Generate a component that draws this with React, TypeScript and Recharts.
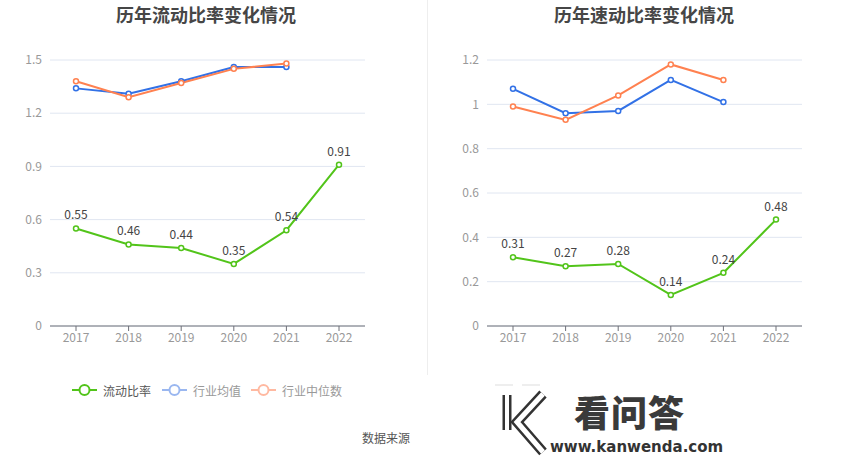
import { LineChart, Line, XAxis, YAxis, CartesianGrid, LabelList } from 'recharts';

const years = ['2017', '2018', '2019', '2020', '2021', '2022'];

const currentRatio = [0.55, 0.46, 0.44, 0.35, 0.54, 0.91];
const currentAvg = [1.34, 1.31, 1.38, 1.46, 1.46, null];
const currentMedian = [1.38, 1.29, 1.37, 1.45, 1.48, null];

const quickRatio = [0.31, 0.27, 0.28, 0.14, 0.24, 0.48];
const quickAvg = [1.07, 0.96, 0.97, 1.11, 1.01, null];
const quickMedian = [0.99, 0.93, 1.04, 1.18, 1.11, null];

const currentTicks = [0, 0.3, 0.6, 0.9, 1.2, 1.5];
const quickTicks = [0, 0.2, 0.4, 0.6, 0.8, 1, 1.2];

const GREEN = '#52c41a';
const BLUE = '#3271e6';
const ORANGE = '#ff8150';
const FONT = '"Noto Sans CJK SC", "Noto Sans", sans-serif';

function buildRows(main: number[], avg: (number | null)[], median: (number | null)[]) {
  return years.map((y, i) => ({ year: y, main: main[i], avg: avg[i], median: median[i] }));
}

interface PanelProps {
  title: string;
  titleCenter: number;
  rows: ReturnType<typeof buildRows>;
  ticks: number[];
  yWidth: number;
  right: number;
  left: number;
}

function Panel({ title, titleCenter, rows, ticks, yWidth, right, left }: PanelProps) {
  const dot = (color: string) => ({ r: 2.5, stroke: color, strokeWidth: 1.5, fill: '#fff' });
  return (
    <div style={{ position: 'absolute', left, top: 0, width: 425, height: 375 }}>
      <div
        style={{
          position: 'absolute',
          top: 1,
          left: titleCenter - 150,
          width: 300,
          textAlign: 'center',
          fontSize: 18,
          fontWeight: 'bold',
          color: '#464646',
          fontFamily: FONT,
          lineHeight: '26px',
        }}
      >
        {title}
      </div>
      <LineChart
        width={425}
        height={375}
        data={rows}
        margin={{ top: 60, right, bottom: 19, left: 0 }}
        style={{ fontFamily: FONT }}
      >
        <CartesianGrid vertical={false} stroke="#e0e6f1" />
        <XAxis
          dataKey="year"
          height={30}
          stroke="#6e7079"
          tick={{ fill: '#999', fontSize: 12 }}
          tickSize={5}
          interval={0}
          padding={{ left: 26, right: 26 }}
        />
        <YAxis
          width={yWidth}
          domain={[0, ticks[ticks.length - 1]]}
          ticks={ticks}
          axisLine={false}
          tickLine={false}
          tick={{ fill: '#999', fontSize: 12 }}
        />
        <Line
          dataKey="avg"
          stroke={BLUE}
          strokeWidth={2}
          dot={dot(BLUE)}
          activeDot={false}
          isAnimationActive={false}
        />
        <Line
          dataKey="median"
          stroke={ORANGE}
          strokeWidth={2}
          dot={dot(ORANGE)}
          activeDot={false}
          isAnimationActive={false}
        />
        <Line
          dataKey="main"
          stroke={GREEN}
          strokeWidth={2}
          dot={dot(GREEN)}
          activeDot={false}
          isAnimationActive={false}
        >
          <LabelList dataKey="main" position="top" offset={9} fill="#444" fontSize={12} />
        </Line>
      </LineChart>
    </div>
  );
}

function LegendItem({ x, color, label, textColor }: { x: number; color: string; label: string; textColor: string }) {
  return (
    <div style={{ position: 'absolute', left: x, top: 380, height: 20, display: 'flex', alignItems: 'center' }}>
      <svg width={26} height={20}>
        <line x1={0} y1={10} x2={25} y2={10} stroke={color} strokeWidth={2} />
        <circle cx={12.5} cy={10} r={5} stroke={color} strokeWidth={2} fill="#fff" />
      </svg>
      <span style={{ marginLeft: 5, fontSize: 12, color: textColor, fontFamily: FONT }}>{label}</span>
    </div>
  );
}

export default function App() {
  return (
    <div style={{ position: 'absolute', left: 0, top: 0, width: 850, height: 459, background: '#fff', overflow: 'hidden' }}>
      <Panel title="历年流动比率变化情况" titleCenter={206} rows={buildRows(currentRatio, currentAvg, currentMedian)} ticks={currentTicks} yWidth={50} right={60} left={0} />
      <Panel title="历年速动比率变化情况" titleCenter={219} rows={buildRows(quickRatio, quickAvg, quickMedian)} ticks={quickTicks} yWidth={62} right={48} left={425} />
      <div style={{ position: 'absolute', left: 427, top: 0, width: 1, height: 375, background: '#eeeeee' }} />
      <LegendItem x={72} color={GREEN} label="流动比率" textColor="#555" />
      <LegendItem x={162} color="#9ab7f0" label="行业均值" textColor="#999" />
      <LegendItem x={251} color="#ffb9a1" label="行业中位数" textColor="#999" />
      <div style={{ position: 'absolute', left: 362, top: 429, fontSize: 12, color: '#555', fontFamily: FONT }}>数据来源</div>
      <svg style={{ position: 'absolute', left: 495, top: 380 }} width={80} height={79}>
        <line x1={0} y1={5} x2={18} y2={5} stroke="#eee" strokeWidth={2} />
        <line x1={27} y1={5} x2={45} y2={5} stroke="#eee" strokeWidth={2} />
        <g fill="none" strokeLinejoin="miter">
          <polyline points="12,15 12,50" stroke="#333" strokeWidth={9} />
          <polyline points="12,15 12,50" stroke="#fff" strokeWidth={4} />
          <polyline points="48,14 22,42 48,72" stroke="#333" strokeWidth={10} />
          <polyline points="48,14 22,42 48,72" stroke="#fff" strokeWidth={5} />
        </g>
      </svg>
      <div style={{ position: 'absolute', left: 574, top: 389, fontSize: 36, fontWeight: 900, color: '#3a3a3a', fontFamily: FONT, letterSpacing: 1, lineHeight: '44px' }}>看问答</div>
      <div style={{ position: 'absolute', left: 550, top: 438, fontSize: 15, fontWeight: 'bold', color: '#333', fontFamily: '"DejaVu Sans", sans-serif', lineHeight: '18px' }}>www.kanwenda.com</div>
    </div>
  );
}
